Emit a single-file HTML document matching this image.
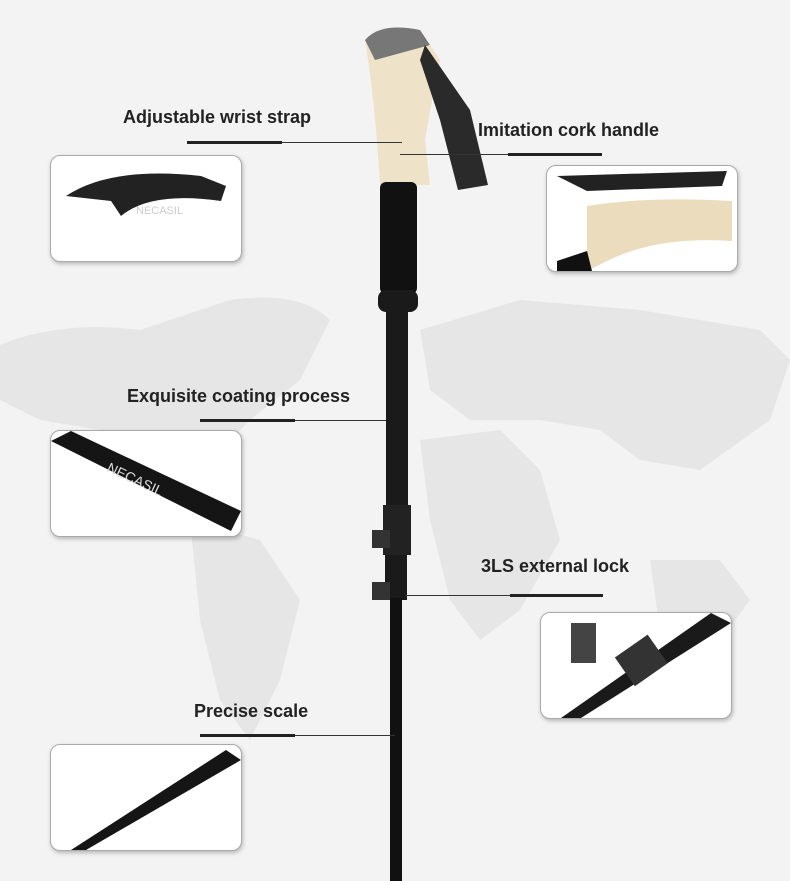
<!DOCTYPE html>
<html><head><meta charset="utf-8"><style>
html,body{margin:0;padding:0}
body{width:790px;height:881px;position:relative;overflow:hidden;background:#f3f3f3;font-family:"Liberation Sans",sans-serif}
.lbl{position:absolute;font-weight:bold;font-size:18px;color:#222;white-space:nowrap}
.ln{position:absolute;height:1px;background:#333}
.th{position:absolute;height:3px;background:#222}
.box{position:absolute;width:190px;height:105px;background:#fff;border:1px solid #aaa;border-radius:10px;box-shadow:1px 2px 4px rgba(0,0,0,.25);overflow:hidden}
</style></head><body>
<svg width="790" height="881" style="position:absolute;left:0;top:0">
 <g fill="#e6e6e6">
  <path d="M0 345 Q60 320 140 330 L230 300 Q300 290 330 320 L300 380 L250 420 L200 470 L150 480 L100 430 L40 420 L0 400Z"/>
  <path d="M190 520 L260 540 L300 600 L280 680 L250 740 L220 700 L200 620Z"/>
  <path d="M420 330 L520 300 L640 310 L760 330 L790 360 L770 420 L700 470 L640 460 L600 430 L540 420 L470 420 L430 390Z"/>
  <path d="M420 440 L500 430 L540 470 L560 540 L520 610 L480 640 L450 600 L430 520Z"/>
  <path d="M650 560 L720 560 L750 600 L720 640 L660 630Z"/>
 </g>
 <!-- pole -->
 <path d="M365 40 Q380 22 420 30 L440 60 Q430 110 425 140 L430 185 L380 185 Q375 100 365 40Z" fill="#eee3c8"/>
 <path d="M365 40 Q380 22 420 30 L430 45 L375 60Z" fill="#777"/>
 <path d="M425 45 L470 110 L488 185 L458 190 L440 120 L420 60Z" fill="#2a2a2a"/>
 <rect x="380" y="182" width="37" height="112" rx="6" fill="#111"/>
 <rect x="378" y="290" width="40" height="22" rx="8" fill="#1a1a1a"/>
 <rect x="386" y="310" width="22" height="200" fill="#1a1a1a"/>
 <rect x="383" y="505" width="28" height="50" fill="#222"/>
 <rect x="372" y="530" width="18" height="18" fill="#333"/>
 <rect x="385" y="555" width="22" height="45" fill="#1a1a1a"/>
 <rect x="372" y="582" width="18" height="18" fill="#333"/>
 <rect x="390" y="598" width="12" height="283" fill="#111"/>
</svg>
<div class="lbl" style="left:123px;top:107px">Adjustable wrist strap</div>
<div class="ln" style="left:187px;top:142px;width:215px"></div><div class="th" style="left:187px;top:141px;width:95px"></div>
<div class="lbl" style="left:478px;top:120px">Imitation cork handle</div>
<div class="ln" style="left:400px;top:154px;width:202px"></div><div class="th" style="left:508px;top:153px;width:94px"></div>
<div class="lbl" style="left:127px;top:386px">Exquisite coating process</div>
<div class="ln" style="left:200px;top:420px;width:186px"></div><div class="th" style="left:200px;top:419px;width:95px"></div>
<div class="lbl" style="left:481px;top:556px">3LS external lock</div>
<div class="ln" style="left:405px;top:595px;width:198px"></div><div class="th" style="left:510px;top:594px;width:93px"></div>
<div class="lbl" style="left:194px;top:701px">Precise scale</div>
<div class="ln" style="left:200px;top:735px;width:195px"></div><div class="th" style="left:200px;top:734px;width:95px"></div>

<div class="box" style="left:50px;top:155px"><svg width="190" height="105"><path d="M15 40 Q60 10 150 20 L175 30 L170 45 Q100 35 70 60 L60 45Z" fill="#222"/><text x="85" y="58" font-size="11" fill="#ccc" font-family="Liberation Sans">NECASIL</text></svg></div>
<div class="box" style="left:546px;top:165px"><svg width="190" height="105"><path d="M10 10 L180 5 L175 20 L40 25Z" fill="#222"/><path d="M40 40 Q100 30 185 35 L185 75 Q110 70 60 95 L40 105Z" fill="#eadcbc"/><path d="M10 95 L40 85 L45 105 L10 105Z" fill="#111"/></svg></div>
<div class="box" style="left:50px;top:430px"><svg width="190" height="105"><path d="M0 10 L20 0 L190 80 L180 100Z" fill="#151515"/><text x="55" y="40" font-size="14" fill="#ddd" transform="rotate(25 55 40)" font-family="Liberation Sans">NECASIL</text></svg></div>
<div class="box" style="left:540px;top:612px"><svg width="190" height="105"><path d="M20 105 L170 0 L190 10 L40 105Z" fill="#1a1a1a"/><rect x="80" y="30" width="40" height="35" fill="#333" transform="rotate(-35 100 47)"/><rect x="30" y="10" width="25" height="40" fill="#444"/></svg></div>
<div class="box" style="left:50px;top:744px"><svg width="190" height="105"><path d="M20 105 L175 5 L190 15 L35 105Z" fill="#151515"/></svg></div>
</body></html>
